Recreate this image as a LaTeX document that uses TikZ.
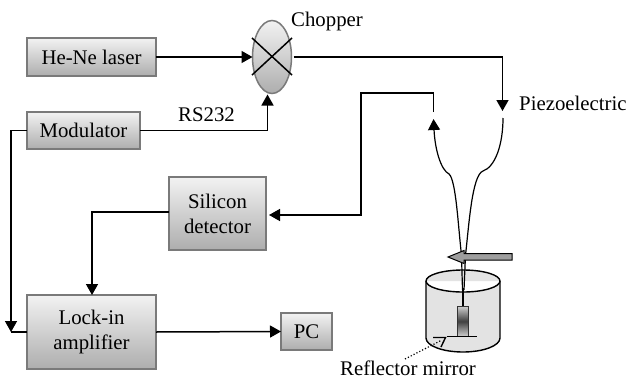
\documentclass[tikz,border=0pt]{standalone}
\usepackage{fontspec}
\setmainfont{Liberation Serif}
\usetikzlibrary{arrows.meta,calc,shapes.geometric}
\definecolor{boxedge}{HTML}{7A7A7A}
\tikzset{
  unit/.style={draw=boxedge,line width=1.5pt,top color=white!95!black,bottom color=black!32,
    inner sep=0pt,outer sep=0pt,align=center,font=\fontsize{20.8}{25}\selectfont},
  lbl/.style={inner sep=0pt,font=\fontsize{20.8}{25}\selectfont},
  conn/.style={line width=1.5pt,line join=miter},
  arr/.style={conn,-{Triangle[length=11pt,width=12pt]}},
  thin wire/.style={line width=1.2pt},
}
\begin{document}
\begin{tikzpicture}[x=1pt,y=-1pt]
\useasboundingbox (0,0) rectangle (629,380);
% units
\node[unit,minimum width=129pt,minimum height=38pt] (laser) at (91.5,57) {He-Ne laser};
\node[unit,minimum width=113pt,minimum height=37pt] (mod) at (83.5,130.5) {Modulator};
\node[unit,minimum width=97pt,minimum height=73pt] (si) at (217.5,213.5) {Silicon\\detector};
\node[unit,minimum width=129pt,minimum height=74pt] (lock) at (91.5,332) {Lock-in\\amplifier};
\node[unit,minimum width=51pt,minimum height=37pt] (pc) at (306.5,331.5) {PC};
\node[draw=boxedge,line width=1.5pt,ellipse,top color=white!95!black,bottom color=black!32,
  minimum width=39pt,minimum height=73pt,inner sep=0pt,outer sep=0pt] (chop) at (272,57) {};
% chopper cross
\coordinate (c1) at (252,38); \coordinate (c2) at (292,75);
\coordinate (c3) at (252,75); \coordinate (c4) at (292,38);
\draw[conn] (c1) -- (c2) (c3) -- (c4);
% labels
\node[lbl,anchor=west] (choplbl) at (291,21) {Chopper};
\node[lbl] (rs) at (206.5,115) {RS232};
\node[lbl,anchor=west] (piezo) at (519,103) {Piezoelectric};
\node[lbl] (mirror) at (408,368.5) {Reflector mirror};
% connectors
\draw[arr] (laser.east) -- (chop.west);
\coordinate (modup) at (267.5,130.5);
\draw[arr] (mod.east) -- (modup) -- (267.5,94.5);
\coordinate (wl) at (11,130.5);
\coordinate (wd) at (11,332);
\draw[conn] (lock.west) -- (wd);
\draw[arr] (mod.west) -- (wl) -- (wd);
\coordinate (sd) at (92,212);
\draw[arr] (si.west |- sd) -- (sd) -- (lock.north -| sd);
\draw[arr] (lock.east) -- (pc.west);
% laser to piezo
\coordinate (pztop) at (502.5,57);
\coordinate (pztip) at (502.5,111);
\draw[arr,shorten <=2pt] (chop.east) -- (pztop) -- (pztip);
% detector return
\coordinate (fa) at (433.5,112); \coordinate (fb) at (433.5,93); \coordinate (fc) at (361,93); \coordinate (fd) at (361,215);
\draw[arr,shorten >=3pt] (fa) -- (fb) -- (fc) -- (fd) -- (si.east |- fd);
% vessel
\fill[black!11] (426,281) -- (426,338) arc[start angle=180,end angle=0,x radius=37,y radius=14] -- (500,281) arc[start angle=0,end angle=360,x radius=37,y radius=11] -- cycle;
\draw[line width=1.4pt] (463,281) ellipse[x radius=37,y radius=11];
\draw[line width=1.4pt] (426,281) -- (426,338) arc[start angle=180,end angle=0,x radius=37,y radius=14] -- (500,281);
% fibres
\draw[thin wire,{Triangle[length=11pt,width=12pt]}-] (433.5,119) .. controls (435,150) and (441,170) .. (449,174) .. controls (456,180) and (458,225) .. (461.5,255) -- (462.5,290);
\draw[thin wire] (503,118) .. controls (503,145) and (495,167) .. (483,171) .. controls (472,175) and (469,225) .. (465.5,255) -- (464,290);
% probe
\draw[line width=2.5pt] (463,288) -- (463,307);
\draw[line width=1pt,draw=black!80,top color=black!20,bottom color=black!20,middle color=black!75] (457.5,306.5) rectangle (468.5,336);
\draw[line width=1.5pt] (447,336.5) -- (477,336.5);
% mirror
\draw[line width=1.4pt] (433,337.5) -- (445.5,337.5) -- (441,347);
\coordinate (dotend) at (442,340);
\coordinate (dotstart) at (405,359);
\draw[line width=1.2pt,dotted] (dotstart) -- (dotend);
% stage arrow
\draw[line width=1pt,fill=black!38] (448,257) -- (464,250.5) -- (464,253.5) -- (512,253.5) -- (512,260) -- (464,260) -- (464,263.5) -- cycle;
\end{tikzpicture}
\end{document}
